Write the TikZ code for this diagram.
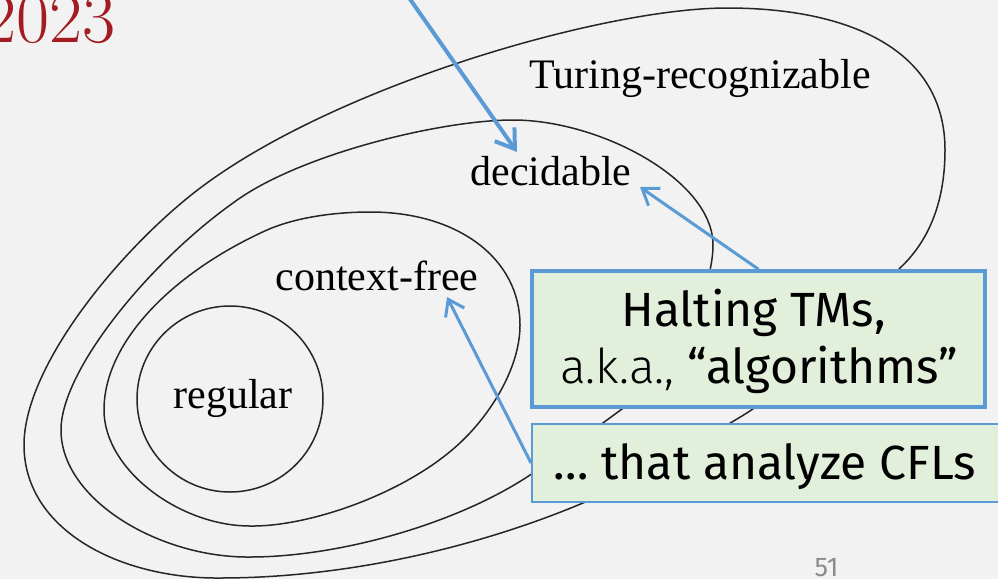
\documentclass[tikz,border=0pt]{standalone}
\usepackage{fontspec}
\newfontfamily\garam{Liberation Serif}
\newfontfamily\fira{Fira Sans}
\newfontfamily\firalight{Fira Sans Light}
\usetikzlibrary{arrows.meta}
\definecolor{bg}{HTML}{F2F2F2}
\definecolor{myblue}{HTML}{5B9BD5}
\definecolor{boxgreen}{HTML}{E2EFDA}
\definecolor{yearred}{HTML}{A21C22}
\definecolor{pagegray}{HTML}{8C8C8C}
\begin{document}
\begin{tikzpicture}[x=1pt,y=-1pt,
  setline/.style={draw=black!85, line width=1.5pt},
  lbl/.style={font=\garam\fontsize{42}{50}\selectfont, anchor=base, inner sep=0pt},
  boxtxt/.style={font=\fira\fontsize{48}{56}\selectfont, anchor=base, inner sep=0pt},
  bigarrow/.style={draw=myblue, line width=4pt, -{Straight Barb[length=18pt,width=24pt]}},
  smallarrow/.style={draw=myblue, line width=3pt, -{Straight Barb[length=15pt,width=21pt]}},
  notebox/.style={draw=myblue, fill=boxgreen, inner sep=0pt}
]
\useasboundingbox (0,0) rectangle (998,579);
\fill[bg] (0,0) rectangle (998,579);
\clip (0,0) rectangle (998,579);

% Turing-recognizable
\draw[setline] (727,8) .. controls (850,8) and (945,50) .. (945,150)
  .. controls (945,200) and (930,240) .. (900,268)
  .. controls (870,302) and (792,386) .. (742,416)
  .. controls (690,447) and (630,483) .. (583,503)
  .. controls (471,550) and (340,578) .. (220,578)
  .. controls (120,579) and (24,530) .. (24,445)
  .. controls (24,370) and (110,262) .. (185,200)
  .. controls (316,91) and (600,8) .. (727,8) -- cycle;
% decidable
\draw[setline] (513,120) .. controls (600,120) and (713,180) .. (713,245)
  .. controls (713,300) and (662,379) .. (622,409)
  .. controls (592,431) and (563,452) .. (533,473)
  .. controls (460,523) and (340,557) .. (250,557)
  .. controls (160,558) and (61,500) .. (61,430)
  .. controls (61,370) and (150,262) .. (233,203)
  .. controls (297,155) and (440,120) .. (513,120) -- cycle;
% context-free
\draw[setline] (370,212) .. controls (460,212) and (520,260) .. (520,325)
  .. controls (520,370) and (488,416) .. (463,440)
  .. controls (410,492) and (310,527) .. (250,526)
  .. controls (180,526) and (104,470) .. (104,410)
  .. controls (104,340) and (176,271) .. (267,230)
  .. controls (299,216) and (340,212) .. (370,212) -- cycle;
% regular
\draw[setline] (230,399) circle[radius=93];

\node[lbl] (tr) at (700,88) {Turing-recognizable};
\node[lbl] (dec) at (551,185) {decidable};
\node[lbl] (cf) at (377,290) {context-free};
\node[lbl] (reg) at (233,408) {regular};

\node[anchor=base east, inner sep=0pt, text=yearred, font=\fontsize{72}{80}\selectfont] (year) at (116,42) {2023};
\node[anchor=base, inner sep=0pt, text=pagegray, font=\fira\fontsize{27}{30}\selectfont] (page) at (826.5,576) {51};

\coordinate (a1s) at (398,-18);
\coordinate (a1t) at (517,152);
\coordinate (a2t) at (640,187);
\coordinate (a3t) at (447,297);

\node[notebox, line width=3.5pt, minimum width=453pt, minimum height=136pt] (halt) at (758.5,339) {};
\node[notebox, line width=2pt, minimum width=478pt, minimum height=78pt] (cfl) at (771,463) {};

\draw[bigarrow] (a1s) -- (a1t);
\draw[smallarrow] (halt.north) -- (a2t);
\draw[smallarrow] (cfl.west) -- (a3t);

\node[boxtxt] (l1) at (753.5,326) {Halting TMs,};
\node[boxtxt] (l2) at (759,383) {{\firalight a.k.a.,} “algorithms”};
\node[boxtxt] (l3) at (764.5,479) {… that analyze CFLs};
\end{tikzpicture}
\end{document}
